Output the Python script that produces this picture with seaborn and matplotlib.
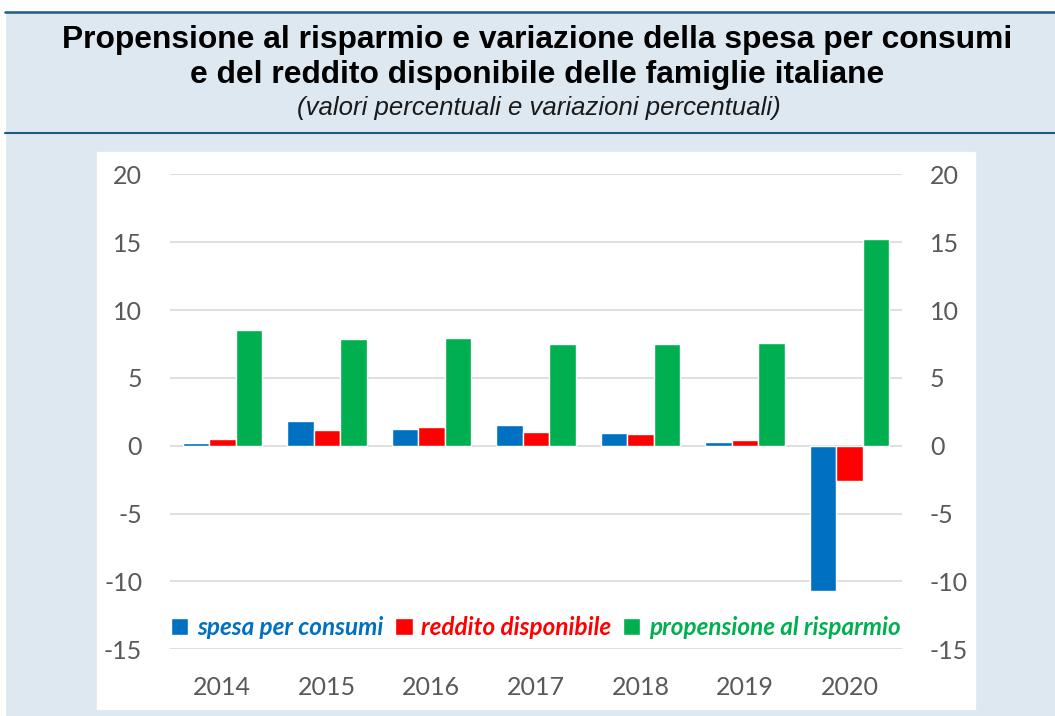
import pandas as pd
import matplotlib
matplotlib.use('Agg')
import matplotlib.pyplot as plt
from matplotlib.patches import Rectangle
from matplotlib.lines import Line2D
import seaborn as sns

# Data
years = ['2014', '2015', '2016', '2017', '2018', '2019', '2020']
spesa = [0.2, 1.8, 1.2, 1.5, 0.95, 0.3, -10.7]
reddito = [0.5, 1.15, 1.35, 1.0, 0.9, 0.4, -2.6]
risparmio = [8.5, 7.85, 7.95, 7.5, 7.5, 7.55, 15.25]
series = ['spesa per consumi', 'reddito disponibile', 'propensione al risparmio']
colors = ['#0070C0', '#FF0000', '#00B050']
yticks = [20, 15, 10, 5, 0, -5, -10, -15]

df = pd.DataFrame({
    'anno': years * 3,
    'serie': [series[0]] * 7 + [series[1]] * 7 + [series[2]] * 7,
    'valore': spesa + reddito + risparmio,
})

sns.set_theme(style='white')
plt.rcParams['font.family'] = ['Lato', 'DejaVu Sans']
plt.rcParams['axes.unicode_minus'] = False

bg = '#dde8f0'
fig = plt.figure(figsize=(10.55, 7.16), dpi=100)
fig.patch.set_facecolor(bg)

# white strip left/top and header lines
W, H = 1055, 716
fig.add_artist(Rectangle((0, 0), 5 / W, 1, transform=fig.transFigure, color='white', zorder=0))
fig.add_artist(Rectangle((0, 1 - 12 / H), 1, 12 / H, transform=fig.transFigure, color='white', zorder=0))
fig.add_artist(Line2D([5 / W, 1], [1 - 12 / H] * 2, transform=fig.transFigure, color='#1f5a80', lw=1.8))
fig.add_artist(Line2D([5 / W, 1], [1 - 133 / H] * 2, transform=fig.transFigure, color='#1f5a80', lw=1.5))
# white chart panel
fig.add_artist(Rectangle((97 / W, 1 - 709 / H), (975 - 97) / W, (709 - 152) / H,
                         transform=fig.transFigure, color='white', zorder=0))

fig.text(0.509, 1 - 40 / H, 'Propensione al risparmio e variazione della spesa per consumi',
         ha='center', va='center', fontsize=22.9, fontweight='bold', family='Liberation Sans',
         color='black')
fig.text(0.509, 1 - 75 / H, 'e del reddito disponibile delle famiglie italiane',
         ha='center', va='center', fontsize=22.9, fontweight='bold', family='Liberation Sans',
         color='black')
fig.text(0.511, 1 - 108 / H, '(valori percentuali e variazioni percentuali)',
         ha='center', va='center', fontsize=18.5, style='italic', family='Liberation Sans',
         color='#1a1a1a')

ax = fig.add_axes([170 / W, 1 - 649.3 / H, (902 - 170) / W, (649.3 - 174.3) / H])
ax.set_facecolor('none')
sns.barplot(data=df, x='anno', y='valore', hue='serie', hue_order=series,
            palette=dict(zip(series, colors)), width=0.76, saturation=1,
            ax=ax, zorder=3)

ax.set_ylim(-15, 20)
ax.set_yticks(yticks)
ax.grid(axis='y', color='#d9d9d9', lw=1.2, zorder=0)
ax.set_axisbelow(True)
for s in ax.spines.values():
    s.set_visible(False)
ax.set_xlabel('')
ax.set_ylabel('')
ax.tick_params(axis='both', length=0, labelsize=18, labelcolor='#595959')
ax.tick_params(axis='y', pad=20)
ax.tick_params(axis='x', pad=19)

ax2 = ax.twinx()
ax2.set_ylim(-15, 20)
ax2.set_yticks(yticks)
for s in ax2.spines.values():
    s.set_visible(False)
ax2.tick_params(axis='y', length=0, labelsize=18, labelcolor='#595959', pad=20)

handles, labels = ax.get_legend_handles_labels()
leg = ax.legend(handles, labels, loc='center', bbox_to_anchor=(0.5, 0.045), ncol=3,
                frameon=False, handlelength=0.7, handleheight=0.7, handletextpad=0.35,
                columnspacing=0.5, prop={'size': 17.5, 'style': 'italic', 'weight': 'bold'})
for t, c in zip(leg.get_texts(), colors):
    t.set_color(c)

fig.savefig('out.png', dpi=100, facecolor=fig.get_facecolor())
